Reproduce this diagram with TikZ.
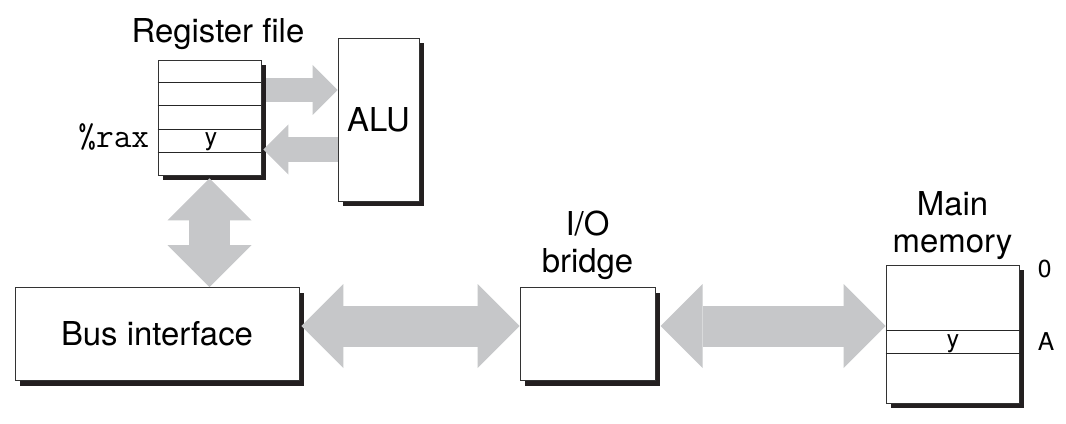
\documentclass[tikz,border=0pt]{standalone}
\usepackage{fontspec}
\setmainfont{TeX Gyre Heros}
\usepackage{xcolor}
\usepackage{tikz}
\usetikzlibrary{arrows.meta,positioning,calc,shadows}

\definecolor{busgray}{RGB}{198,199,201}
\definecolor{shadowblack}{RGB}{35,31,32}

\begin{document}
\begin{tikzpicture}[
  unit/.style={draw=black!80, line width=0.7pt, fill=white, inner sep=0pt,
    drop shadow={shadow xshift=0.125cm, shadow yshift=-0.125cm, fill=shadowblack, opacity=1},
    font=\fontsize{23.4}{26.3}\selectfont},
  lbl/.style={inner sep=0pt, align=center, font=\fontsize{23.4}{26.3}\selectfont},
  small/.style={inner sep=0pt, font=\fontsize{17.5}{20}\selectfont},
  rowline/.style={draw=black!85, line width=0.7pt},
  bigbus/.style={draw=busgray, line width=1.025cm,
    {Triangle[length=1.05cm, width=2.1cm, line width=0pt]}-{Triangle[length=1.05cm, width=2.1cm, line width=0pt]}},
  regbus/.style={draw=busgray, line width=0.6cm,
    -{Triangle[length=0.625cm, width=1.25cm, line width=0pt]}}
]
  \path[use as bounding box, fill=white] (0,0) rectangle (26.65,-10.6);

  % CPU side
  \node[unit, minimum width=2.575cm, minimum height=2.875cm] (regfile) at (5.2375,-2.9375) {};
  \node[unit, minimum width=2.025cm, minimum height=4.075cm] (alu) at (9.4625,-2.9875) {ALU};
  \node[unit, minimum width=7.1cm, minimum height=2.325cm] (bus) at (3.925,-8.35) {Bus interface};

  % Bridge and memory
  \node[unit, minimum width=3.375cm, minimum height=2.325cm] (bridge) at (14.6875,-8.35) {};
  \node[unit, minimum width=3.325cm, minimum height=3.45cm] (mem) at (23.8125,-8.35) {};

  % Register rows
  \foreach \k in {1,...,4} {
    \draw[rowline] ($(regfile.north west)!\k/5!(regfile.south west)$)
      -- ($(regfile.north east)!\k/5!(regfile.south east)$);
  }

  % Memory word at A
  \foreach \f in {0.478,0.638} {
    \draw[rowline] ($(mem.north west)!\f!(mem.south west)$)
      -- ($(mem.north east)!\f!(mem.south east)$);
  }

  % Labels
  \node[lbl, above=0.425cm of regfile.north, anchor=base, xshift=0.2125cm] (reglbl) {Register file};
  \node[lbl, above=0.17cm of bridge] (bridgelbl) {I/O\\bridge};
  \node[lbl, above=0.12cm of mem] (memlbl) {Main\\memory};
  \node[inner sep=0pt, anchor=base east, font=\fontsize{24.5}{27}\ttfamily]
    (raxlbl) at ($(regfile.west)+(-0.2,-0.7375)$) {\%rax};
  \node[small, anchor=base] (regy) at ($(regfile.center)+(0.04,-0.7125)$) {y};
  \node[small, anchor=base] (memy) at ($(mem.center)+(0.0125,-0.325)$) {y};
  \node[small, anchor=base west] (zero) at ($(mem.north east)+(0.45,-0.325)$) {0};
  \node[small, anchor=base west] (addr) at ($(mem.east)+(0.45,-0.4)$) {A};

  % Buses
  \coordinate (upy) at (0,-2.25);
  \coordinate (downy) at (0,-3.7375);
  \coordinate (busy) at (0,-8.15);
  \draw[regbus] ([xshift=0.125cm]regfile.east |- upy) -- (alu.west |- upy);
  \draw[regbus] (alu.west |- downy) -- ([xshift=0.05cm]regfile.east |- downy);
  \draw[bigbus] ([yshift=-0.075cm]regfile.south) -- (regfile.south |- bus.north);
  \draw[bigbus] ([xshift=0.05cm]bus.east |- busy) -- (bridge.west |- busy);
  \draw[bigbus] ([xshift=0.125cm]bridge.east |- busy) -- (mem.west |- busy);
\end{tikzpicture}
\end{document}
